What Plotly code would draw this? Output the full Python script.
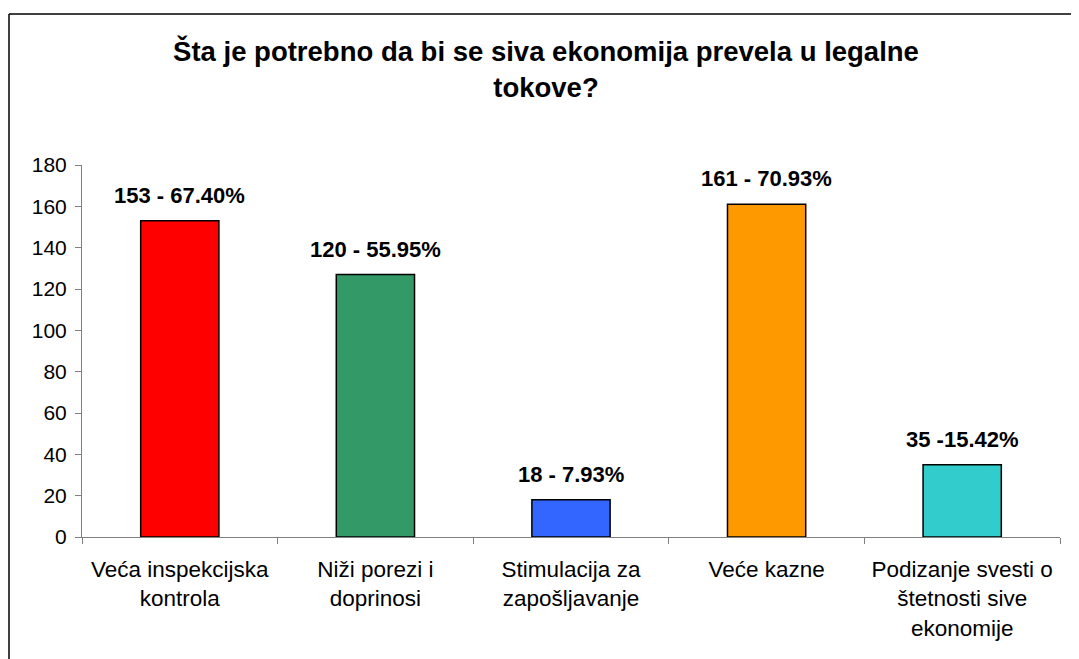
import plotly.graph_objects as go

categories = ["Veća inspekcijska<br>kontrola", "Niži porezi i<br>doprinosi",
              "Stimulacija za<br>zapošljavanje", "Veće kazne",
              "Podizanje svesti o<br>štetnosti sive<br>ekonomije"]
values = [153, 127, 18, 161, 35]
value_labels = ["153 - 67.40%", "120 - 55.95%", "18 - 7.93%", "161 - 70.93%", "35 -15.42%"]
colors = ["#FF0000", "#339966", "#3366FF", "#FF9900", "#33CCCC"]
y_ticks = [0, 20, 40, 60, 80, 100, 120, 140, 160, 180]

FONT = "Liberation Sans, Arial, sans-serif"

fig = go.Figure()
fig.add_trace(go.Bar(
    x=categories, y=values,
    marker=dict(color=colors, line=dict(color="black", width=1.5)),
    width=0.4, hoverinfo="skip",
))

for c, v, t in zip(categories, values, value_labels):
    fig.add_annotation(x=c, y=v, text="<b>" + t + "</b>", showarrow=False,
                       yanchor="bottom", yshift=11,
                       font=dict(family=FONT, size=22, color="black"))

# page body has an 8px margin; figure sized to fill the rest of the window
W, H = 1071, 651
L, R, T, B = 74, 19, 157, 122
pw, ph = W - L - R, H - T - B

def px(xp):
    return (xp - L) / pw

def py(yp):
    return (H - B - yp) / ph

# chart border (left and top edges visible)
fig.add_shape(type="line", xref="paper", yref="paper",
              x0=px(1), y0=py(H + 5), x1=px(1), y1=py(6),
              line=dict(color="black", width=1.5))
fig.add_shape(type="line", xref="paper", yref="paper",
              x0=px(1), y0=py(6), x1=px(W + 5), y1=py(6),
              line=dict(color="black", width=1.5))

fig.update_layout(
    width=W, height=H,
    margin=dict(l=L, r=R, t=T, b=B),
    paper_bgcolor="white", plot_bgcolor="white",
    showlegend=False,
    title=dict(text="<b>Šta je potrebno da bi se siva ekonomija prevela u legalne<br>tokove?</b>",
               xref="container", x=538 / W, xanchor="center",
               yref="container", y=1 - 53 / H, yanchor="top",
               font=dict(family=FONT, size=27.5, color="black")),
    font=dict(family=FONT, color="black"),
    xaxis=dict(showline=True, linecolor="#808080", linewidth=1,
               ticks="outside", tickson="boundaries", ticklen=6, tickcolor="#808080",
               tickfont=dict(family=FONT, size=22.5, color="black"),
               showgrid=False, ticklabelstandoff=12, automargin=False),
    yaxis=dict(range=[0, 180], tickvals=y_ticks, showline=True, linecolor="#808080",
               linewidth=1, ticks="outside", ticklen=6, tickcolor="#808080",
               tickfont=dict(family=FONT, size=21, color="black"),
               showgrid=False, zeroline=False, ticklabelstandoff=4, automargin=False),
)

fig.write_html("out.html")
